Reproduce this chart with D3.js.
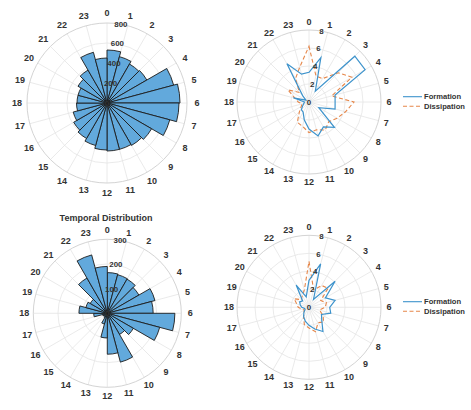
<!DOCTYPE html>
<html><head><meta charset="utf-8">
<script src="https://cdn.jsdelivr.net/npm/d3@7"></script>
<style>body{margin:0;background:#fff;} svg text{font-family:"Liberation Sans",Arial,sans-serif;}</style>
</head><body><svg id="c" width="471" height="410"></svg>
<script>
// ---- data ----
const hourLabels = ["0","1","2","3","4","5","6","7","8","9","10","11","12","13","14","15","16","17","18","19","20","21","22","23"];
const countsTop = [530,480,450,460,690,730,720,650,515,490,480,480,470,440,410,385,350,305,300,300,335,380,525,450];
const countsBottom = [165,162,160,148,200,186,274,220,122,99,205,166,100,45,20,15,20,55,115,90,80,165,245,190];
const formationTop = [3.3,5.1,1.4,7.2,7.2,3.0,2.9,3.0,1.25,4.0,3.2,3.9,3.0,2.05,1.3,1.2,0.8,0.6,0.5,1.8,0.4,1.0,4.9,3.2];
const dissipationTop = [6.2,3.0,3.0,4.6,5.5,2.6,5.0,4.2,3.6,3.1,3.6,3.2,3.4,2.8,2.6,1.5,1.0,0.8,1.2,1.6,2.7,1.5,3.0,4.0];
const formationBottom = [3.0,5.0,1.0,4.1,2.1,3.0,2.3,2.5,1.6,2.0,3.1,2.5,2.0,1.6,1.2,0.8,0.5,0.5,0.8,1.0,1.2,1.0,2.85,1.2];
const dissipationBottom = [5.1,2.0,2.8,3.0,1.5,2.0,1.8,1.2,1.8,2.3,2.0,2.8,2.3,2.0,1.2,0.8,0.6,0.8,1.2,1.4,1.9,1.2,1.5,2.0];
const roseTicksTop = [0,200,400,600,800];
const roseTicksBottom = [0,100,200,300];
const lineTicks = [0,2,4,6,8];
const seriesNames = ["Formation","Dissipation"];
const titleText = "Temporal Distribution";

// ---- style ----
const barFill = "#62a9dc", barStroke = "#1c1c1c";
const formColor = "#3d93cc", dissColor = "#e6874a";
const gridColor = "#e5e5e5", outerColor = "#d4d4d4", textColor = "#333";

const svg = d3.select("#c");
const angle = d3.scaleLinear().domain([0, hourLabels.length]).range([0, 2*Math.PI]);

function frame(g, cx, cy, R, ticks, labelR) {
  const r = d3.scaleLinear().domain([0, d3.max(ticks)]).range([0, R]);
  const gg = g.append("g").attr("transform", `translate(${cx},${cy})`);
  gg.selectAll("line.sp").data(hourLabels).join("line")
    .attr("x1",0).attr("y1",0)
    .attr("x2",(d,i)=>R*Math.sin(angle(i))).attr("y2",(d,i)=>-R*Math.cos(angle(i)))
    .attr("stroke",gridColor).attr("stroke-width",0.8);
  gg.selectAll("circle.rg").data(ticks.slice(1,-1)).join("circle")
    .attr("r",d=>r(d)).attr("fill","none").attr("stroke",gridColor).attr("stroke-width",0.8);
  gg.append("circle").attr("r",R).attr("fill","none").attr("stroke",outerColor).attr("stroke-width",1);
  gg.selectAll("text.hl").data(hourLabels).join("text")
    .attr("x",(d,i)=>labelR*Math.sin(angle(i))).attr("y",(d,i)=>-labelR*Math.cos(angle(i)))
    .attr("text-anchor","middle").attr("dominant-baseline","central")
    .attr("font-size",9).attr("font-weight","bold").attr("fill",textColor).text(d=>d);
  return {gg, r};
}
function rLabels(gg, r, ticks) {
  const a = 10*Math.PI/180;
  gg.selectAll("text.rl").data(ticks).join("text")
    .attr("x",d=>r(d)*Math.sin(a)).attr("y",d=>-r(d)*Math.cos(a))
    .attr("text-anchor","middle").attr("dominant-baseline","central")
    .attr("font-size",7.9).attr("font-weight","bold").attr("fill",textColor).text(d=>d);
}
function rose(cx, cy, R, data, ticks, labelR) {
  const {gg, r} = frame(svg, cx, cy, R, ticks, labelR);
  const arc = d3.arc().innerRadius(0).outerRadius(d=>r(d.v))
    .startAngle(d=>angle(d.i)).endAngle(d=>angle(d.i+1));
  gg.selectAll("path.bar").data(data.map((v,i)=>({v,i}))).join("path")
    .attr("d",arc).attr("fill",barFill).attr("stroke",barStroke).attr("stroke-width",0.9);
  rLabels(gg, r, ticks);
}
function lines(cx, cy, R, f, dsp, ticks, labelR, ly) {
  const {gg, r} = frame(svg, cx, cy, R, ticks, labelR);
  const ln = d3.lineRadial().angle((d,i)=>angle(i)).radius(d=>r(d)).curve(d3.curveLinearClosed);
  gg.append("path").attr("d",ln(dsp)).attr("fill","none").attr("stroke",dissColor)
    .attr("stroke-width",1.1).attr("stroke-dasharray","4,2.5");
  gg.append("path").attr("d",ln(f)).attr("fill","none").attr("stroke",formColor)
    .attr("stroke-width",1.2).attr("stroke-linejoin","miter");
  rLabels(gg, r, ticks);
  const lg = svg.append("g").attr("transform",`translate(403,${ly})`);
  seriesNames.forEach((n,k)=>{
    lg.append("line").attr("x1",0).attr("x2",19).attr("y1",k*9.6).attr("y2",k*9.6)
      .attr("stroke",k?dissColor:formColor).attr("stroke-width",1.1)
      .attr("stroke-dasharray",k?"4,2.5":null);
    lg.append("text").attr("x",21).attr("y",k*9.6).attr("dominant-baseline","central")
      .attr("font-size",7.6).attr("font-weight","bold").attr("fill",textColor).text(n);
  });
}

rose(107, 103, 80, countsTop, roseTicksTop, 90);
lines(309, 102, 72, formationTop, dissipationTop, lineTicks, 80, 96.7);
rose(107.3, 313.3, 74, countsBottom, roseTicksBottom, 83);
lines(309, 307.3, 72, formationBottom, dissipationBottom, lineTicks, 80, 301.7);
svg.append("text").attr("x",106).attr("y",218).attr("text-anchor","middle")
  .attr("dominant-baseline","central").attr("font-size",9).attr("font-weight","bold")
  .attr("fill",textColor).text(titleText);
</script></body></html>
